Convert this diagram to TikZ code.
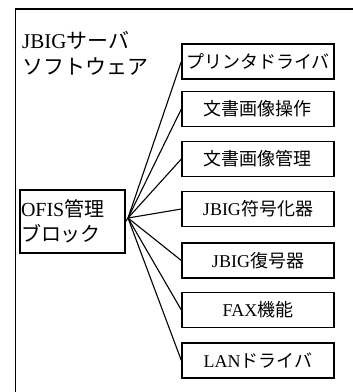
\documentclass[tikz,border=0pt]{standalone}
\usepackage{fontspec}
\setmainfont{Liberation Serif}
\newfontfamily\cjk{Noto Sans CJK JP}
\newcommand{\jp}[1]{{\cjk #1}}
\begin{document}
\begin{tikzpicture}[x=1pt,y=-1pt,
  modbox/.style={draw,line width=1.3pt,minimum width=152pt,minimum height=35pt,inner sep=0pt,font=\fontsize{18}{20}\selectfont},
  fan/.style={line width=1.1pt}]
\useasboundingbox (0,0) rectangle (353,392);
\fill[white] (0,0) rectangle (353,392);
\draw[line width=1.3pt] (15.5,400) -- (15.5,9) -- (360,9);
\node[anchor=west,align=left,inner sep=0pt,font=\fontsize{21}{26}\selectfont] (title) at (22,53) {JBIG\jp{サーバ}\\\jp{ソフトウェア}};
\node[draw,line width=1.3pt,minimum width=105pt,minimum height=63pt,text width=103pt,inner sep=1pt,align=left,font=\fontsize{20}{25}\selectfont] (ofis) at (72.5,221.5) {OFIS\jp{管理}\\\jp{ブロック}};
\coordinate (hub) at (128,218);
\node[modbox] (b1) at (258,61.5) {\jp{プリンタドライバ}};
\node[modbox] (b2) at (258,109) {\jp{文書画像操作}};
\node[modbox] (b3) at (258,159) {\jp{文書画像管理}};
\node[modbox] (b4) at (258,209) {JBIG\jp{符号化器}};
\node[modbox] (b5) at (258,260.5) {JBIG\jp{復号器}};
\node[modbox] (b6) at (258,310) {FAX\jp{機能}};
\node[modbox] (b7) at (258,360.5) {LAN\jp{ドライバ}};
\draw[fan] (ofis.east) -- (hub);
\foreach \b in {b1,b2,b3,b4,b5,b6,b7} \draw[fan] (hub) -- (\b.west);
\end{tikzpicture}
\end{document}
